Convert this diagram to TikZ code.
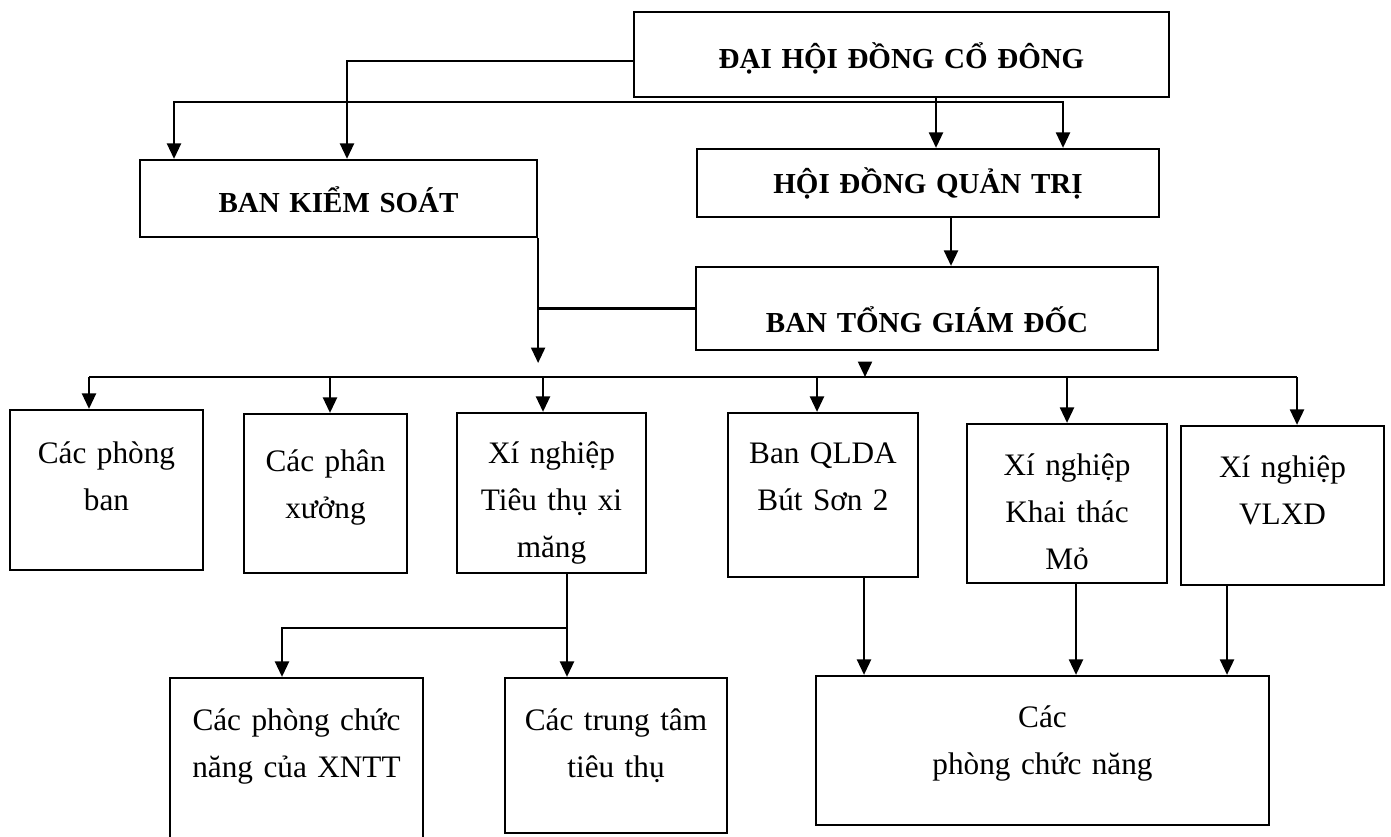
\documentclass[tikz,border=0pt]{standalone}
\usepackage{fontspec}
\setmainfont{Liberation Serif}
\usetikzlibrary{arrows.meta, positioning}

\begin{document}
\begin{tikzpicture}[
    x=0.02cm, y=-0.02cm,
    unit/.style={rectangle, draw, line width=1.3pt, inner sep=0pt, align=center, font=\fontsize{17.8}{27}\selectfont},
    board/.style={unit, font=\fontsize{16.5}{24}\selectfont\bfseries},
    arrow/.style={->, >={Triangle[length=0.31cm, width=0.28cm]}, line width=1.3pt},
    link/.style={line width=1.3pt}
]
\useasboundingbox (0,0) rectangle (1391,836);

% Management layer
\node[board, text width=10.70cm, text height=1.12cm, text depth=0.58cm] (dhd) at (901.5,54.5) {ĐẠI HỘI ĐỒNG CỔ ĐÔNG};
\node[board, text width=7.94cm, text height=1.04cm, text depth=0.50cm] (bks) at (338.5,198.5) {BAN KIỂM SOÁT};
\node[board, text width=9.24cm, text height=0.88cm, text depth=0.48cm] (hdqt) at (928,183) {HỘI ĐỒNG QUẢN TRỊ};
\node[board, text width=9.24cm, text height=1.30cm, text depth=0.36cm] (btgd) at (927,308.5) {BAN TỔNG GIÁM ĐỐC};

\draw[arrow] ([yshift=-0.13cm]dhd.west) -| (bks.north -| 347,0);
\draw[arrow, <->] (bks.north -| 174,0) -- ++(0,-57) -| (hdqt.north -| 1063,0);
\draw[arrow] (dhd.south -| 936,0) -- (hdqt.north -| 936,0);
\draw[arrow] (hdqt.south -| 951,0) -- (btgd.north -| 951,0);

% Units layer
\node[unit, text width=3.86cm, text height=1.06cm, text depth=2.14cm] (cpb) at (106.5,490) {Các phòng\\ban};
\node[unit, text width=3.26cm, text height=1.14cm, text depth=2.04cm] (cpx) at (325.5,493.5) {Các phân\\xưởng};
\node[unit, text width=3.78cm, text height=1.00cm, text depth=2.20cm] (xntt) at (551.5,493) {Xí nghiệp\\Tiêu thụ xi\\măng};
\node[unit, text width=3.80cm, text height=1.00cm, text depth=2.28cm] (qlda) at (823,495) {Ban QLDA\\Bút Sơn 2};
\node[unit, text width=4.00cm, text height=1.02cm, text depth=2.16cm] (ktm) at (1067,503.5) {Xí nghiệp\\Khai thác\\Mỏ};
\node[unit, text width=4.06cm, text height=1.02cm, text depth=2.16cm] (vlxd) at (1282.5,505.5) {Xí nghiệp\\VLXD};

\coordinate (bus) at (0,377);
\draw[arrow, shorten >=0.28cm] (bks.south east) -- (bus -| bks.east);
\draw[link] (btgd.west) -- (btgd.west -| bks.east);
\draw[arrow, shorten <=0.24cm] (btgd.south -| 865,0) -- (bus -| 865,0);
\draw[link] (bus -| 89,0) -- (bus -| 1297,0);
\draw[arrow] (bus -| 89,0) -- (cpb.north -| 89,0);
\draw[arrow] (bus -| 330,0) -- (cpx.north -| 330,0);
\draw[arrow] (bus -| 543,0) -- (xntt.north -| 543,0);
\draw[arrow] (bus -| 817,0) -- (qlda.north -| 817,0);
\draw[arrow] (bus -| 1067,0) -- (ktm.north -| 1067,0);
\draw[arrow] (bus -| 1297,0) -- (vlxd.north -| 1297,0);

% Functional departments
\node[unit, text width=5.06cm, text height=1.04cm, text depth=2.20cm] (cpcnx) at (296.5,759) {Các phòng chức\\năng của XNTT};
\node[unit, text width=4.44cm, text height=1.04cm, text depth=2.06cm] (cttt) at (616,755.5) {Các trung tâm\\tiêu thụ};
\node[unit, text width=9.06cm, text height=1.02cm, text depth=1.96cm] (cpcn) at (1042.5,750.5) {Các\\phòng chức năng};

\draw[arrow] (xntt.south -| 567,0) -- (cttt.north -| 567,0);
\draw[arrow] (xntt.south -| 567,0) ++(0,54) -| (cpcnx.north -| 282,0);
\draw[arrow] (qlda.south -| 864,0) -- (cpcn.north -| 864,0);
\draw[arrow] (ktm.south -| 1076,0) -- (cpcn.north -| 1076,0);
\draw[arrow] (vlxd.south -| 1227,0) -- (cpcn.north -| 1227,0);

\end{tikzpicture}
\end{document}
